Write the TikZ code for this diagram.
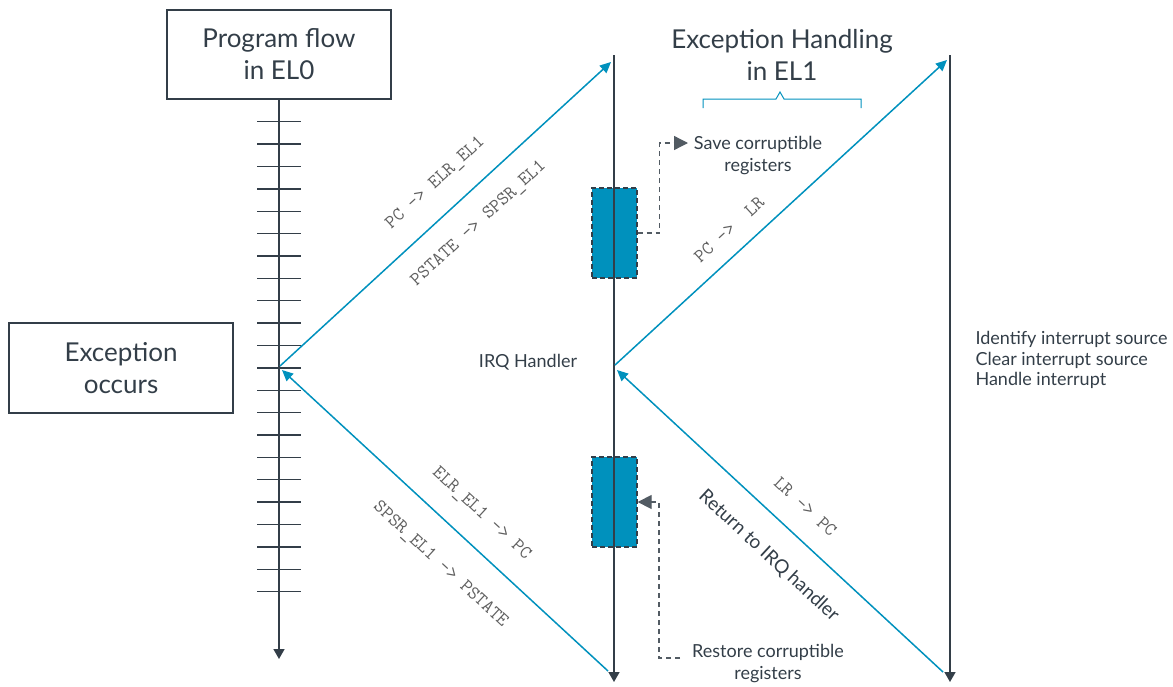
\documentclass[tikz,border=0pt]{standalone}
\usepackage{fontspec}
\setmainfont{Lato}
\usetikzlibrary{arrows.meta}

\definecolor{armdark}{RGB}{51,62,72}
\definecolor{armblue}{RGB}{0,145,189}
\definecolor{codegray}{RGB}{95,95,95}

\tikzset{
  titlebox/.style={draw=armdark, line width=1.2pt, minimum width=224pt, minimum height=89pt, align=center, text=armdark, font=\fontsize{26}{32}\selectfont},
  timeline/.style={draw=armdark, line width=1.6pt, -{Triangle[length=10pt,width=11pt]}},
  tickline/.style={draw=armdark, line width=1.4pt},
  jump/.style={draw=armblue, line width=1.5pt, -{Triangle[length=11pt,width=10pt]}},
  codelabel/.style={text=codegray, font=\ttfamily\fontsize{19}{22}\selectfont, sloped, inner sep=0pt},
  notetext/.style={text=armdark, font=\fontsize{18}{22}\selectfont, align=center},
  stackbox/.style={draw=armdark, fill=armblue, dash pattern=on 5pt off 3pt, line width=1.3pt, minimum width=45pt, minimum height=90pt},
  dashlink/.style={draw=armdark!85, line width=1.3pt, dash pattern=on 5pt off 4pt, -{Triangle[length=14pt,width=14pt]}}
}

\begin{document}
\begin{tikzpicture}[x=1pt,y=-1pt]
  \useasboundingbox (0,0) rectangle (1173,686);

  % Boxes and titles
  \node[titlebox] (flow) at (279,54.5) {Program flow\\in EL0};
  \node[titlebox, minimum height=90pt] (exc) at (121,368) {Exception\\occurs};
  \node[text=armdark, align=center, font=\fontsize{26}{32}\selectfont] (handling) at (782,55) {Exception Handling\\in EL1};
  \draw[armblue, line width=1pt] (703,108) -- (703,99) -- (776,99) -- (780,92) -- (784,99) -- (861,99) -- (861,108);

  % Time lines
  \coordinate (el0end) at (279,659);
  \coordinate (vectop) at (614,55);
  \coordinate (vecend) at (614,682);
  \coordinate (isrtop) at (950,55);
  \coordinate (isrend) at (950,682);

  % Stack frames
  \node[stackbox] (savebox) at (614.5,233) {};
  \node[stackbox] (restorebox) at (614.5,502) {};

  \foreach \i in {0,...,21}
    \draw[tickline] (257,121.7+22.38*\i) -- (301,121.7+22.38*\i);

  \draw[timeline] (flow.south) -- (el0end);
  \draw[timeline] (vectop) -- (vecend);
  \draw[timeline] (isrtop) -- (isrend);

  % Jumps between levels
  \coordinate (apex) at (280,366);
  \coordinate (back) at (282,370);
  \coordinate (vecin) at (611,62);
  \coordinate (irqpt) at (615,365);
  \coordinate (irqback) at (617,370);
  \coordinate (isrin) at (947,60);
  \coordinate (vecout) at (608,671);
  \coordinate (isrout) at (943,672);

  \draw[jump] (apex) -- (vecin)
    node[codelabel, pos=0.53, above=21pt] {PC -> ELR\_EL1}
    node[codelabel, pos=0.54, below=21pt] {PSTATE -> SPSR\_EL1};
  \draw[jump] (irqpt) -- (isrin)
    node[codelabel, pos=0.39, above=16pt] {PC ->\ \ LR};
  \draw[jump] (vecout) -- (back)
    node[codelabel, pos=0.45, above=21pt] {ELR\_EL1 -> PC}
    node[codelabel, pos=0.44, below=27pt] {SPSR\_EL1 -> PSTATE};
  \draw[jump] (isrout) -- (irqback)
    node[codelabel, pos=0.48, above=21pt] {LR -> PC}
    node[notetext, sloped, pos=0.465, below=24pt, inner sep=0pt, font=\fontsize{19}{22}\selectfont] {Return to IRQ handler};

  % Text Node
  \node[notetext] (irq) at (528,362) {IRQ Handler};
  \node[notetext, align=left, anchor=west, font=\fontsize{18}{20.5}\selectfont] (isrsteps) at (972,360) {Identify interrupt source\\Clear interrupt source\\Handle interrupt};
  \node[notetext] (save) at (758,156) {Save corruptible\\registers};
  \node[notetext] (restore) at (768,664) {Restore corruptible\\registers};

  % Dashed links
  \coordinate (savetip) at (688,143);
  \coordinate (restorefrom) at (680,658);
  \draw[dashlink] (savebox.east) -- ++(22,0) |- (savetip);
  \draw[dashlink] (restorefrom) -- ++(-21,0) |- (restorebox.east);
\end{tikzpicture}
\end{document}
